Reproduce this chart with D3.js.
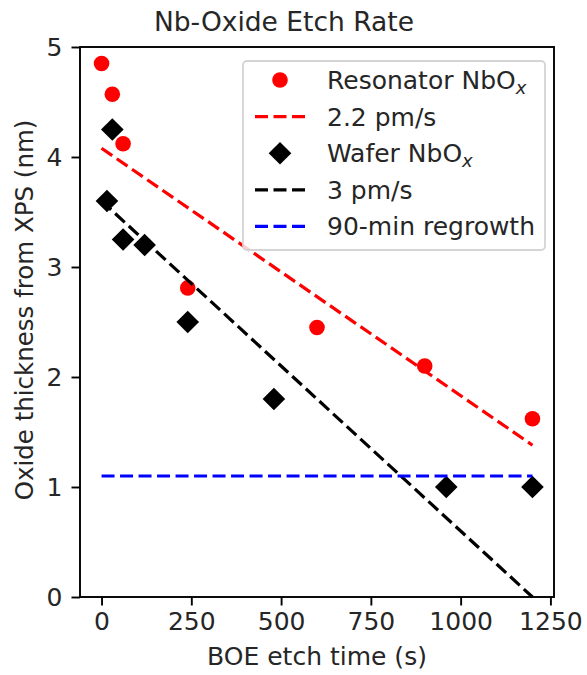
<!DOCTYPE html>
<html>
<head>
<meta charset="utf-8">
<script src="https://cdn.jsdelivr.net/npm/d3@7"></script>
<style>
  body { margin: 0; background: #fff; }
  text { font-family: "DejaVu Sans", sans-serif; fill: #262626; }
</style>
</head>
<body>
<svg id="chart" width="587" height="675"></svg>
<script>
// data
var resTime = [0, 30, 60, 240, 600, 900, 1200];
var resThick = [4.85, 4.57, 4.12, 2.81, 2.45, 2.10, 1.62];
var waferTime = [15, 30, 60, 120, 240, 480, 960, 1200];
var waferThick = [3.6, 4.25, 3.25, 3.2, 2.5, 1.8, 1.0, 1.0];
var fitTime = [0, 1200];
var resFit = [4.08, 1.38];     // 2.2 pm/s
var waferFit = [3.6, 0.0];     // 3 pm/s
var regrowth = [1.1, 1.1];     // 90-min regrowth
var xTicks = [0, 250, 500, 750, 1000, 1250];
var yTicks = [0, 1, 2, 3, 4, 5];

var mLeft = 80, mRight = 554, mTop = 47, mBottom = 597;
var fs = 25;

var svg = d3.select("#chart");

var xScale = d3.scaleLinear().domain([-60, 1260]).range([mLeft, mRight]);
var yScale = d3.scaleLinear().domain([0, 5]).range([mBottom, mTop]);

function zipPts(xs, ys){
	return xs.map(function(x, i){ return [x, ys[i]]; });
}

var line = d3.line()
	.x(function(d){ return xScale(d[0]); })
	.y(function(d){ return yScale(d[1]); });

var diamond = d3.symbol().type(d3.symbolSquare).size(16 * 16);

// red scatter + fit
svg.append("g").selectAll("circle")
	.data(zipPts(resTime, resThick))
	.enter().append("circle")
	.attr("cx", function(d){ return xScale(d[0]); })
	.attr("cy", function(d){ return yScale(d[1]); })
	.attr("r", 7.8)
	.attr("fill", "#ff0000");

svg.append("path")
	.datum(zipPts(fitTime, resFit))
	.attr("d", line)
	.attr("fill", "none")
	.attr("stroke", "#ff0000")
	.attr("stroke-width", 3.2)
	.attr("stroke-dasharray", "13,5.5");

// wafer diamonds + fit
svg.append("g").selectAll("path")
	.data(zipPts(waferTime, waferThick))
	.enter().append("path")
	.attr("d", diamond)
	.attr("transform", function(d){
		return "translate(" + xScale(d[0]) + "," + yScale(d[1]) + ") rotate(45)";
	})
	.attr("fill", "#000");

svg.append("path")
	.datum(zipPts(fitTime, waferFit))
	.attr("d", line)
	.attr("fill", "none")
	.attr("stroke", "#000")
	.attr("stroke-width", 3.2)
	.attr("stroke-dasharray", "13,5.5");

svg.append("path")
	.datum(zipPts(fitTime, regrowth))
	.attr("d", line)
	.attr("fill", "none")
	.attr("stroke", "#0000ff")
	.attr("stroke-width", 3.2)
	.attr("stroke-dasharray", "13,5.5");

// axes
var xAxis = d3.axisBottom(xScale).tickValues(xTicks).tickFormat(d3.format("d")).tickSize(8.5).tickPadding(7);
var yAxis = d3.axisLeft(yScale).tickValues(yTicks).tickFormat(d3.format("d")).tickSize(8.5).tickPadding(9);

svg.append("g")
	.attr("class", "x axis")
	.attr("transform", "translate(0," + mBottom + ")")
	.call(xAxis);
svg.append("g")
	.attr("class", "y axis")
	.attr("transform", "translate(" + mLeft + ",0)")
	.call(yAxis);

svg.selectAll(".axis .domain").remove();
svg.selectAll(".axis line").attr("stroke", "#000").attr("stroke-width", 1.9);
svg.selectAll(".axis text")
	.style("font-family", "DejaVu Sans")
	.style("font-size", fs + "px")
	.attr("fill", "#262626");

// frame
svg.append("rect")
	.attr("x", mLeft).attr("y", mTop)
	.attr("width", mRight - mLeft).attr("height", mBottom - mTop)
	.attr("fill", "none")
	.attr("stroke", "#000")
	.attr("stroke-width", 1.9);

// titles
svg.append("text")
	.attr("x", 284).attr("y", 31)
	.style("text-anchor", "middle")
	.style("font-size", "26.5px")
	.text("Nb-Oxide Etch Rate");

svg.append("text")
	.attr("x", (mLeft + mRight) / 2).attr("y", 665)
	.style("text-anchor", "middle")
	.style("font-size", fs + "px")
	.text("BOE etch time (s)");

svg.append("text")
	.attr("transform", "rotate(-90)")
	.attr("x", -310).attr("y", 33)
	.style("text-anchor", "middle")
	.style("font-size", "24.5px")
	.text("Oxide thickness from XPS (nm)");

// legend
var legend = svg.append("g").attr("class", "legend");
legend.append("rect")
	.attr("x", 243).attr("y", 61)
	.attr("width", 302).attr("height", 189)
	.attr("rx", 4)
	.attr("fill", "#fff").attr("fill-opacity", 0.8)
	.attr("stroke", "#d4d4d4").attr("stroke-width", 1.8);

var legendItems = [
	{label: "Resonator NbO", sub: "x", kind: "circle", color: "#ff0000"},
	{label: "2.2 pm/s", kind: "line", color: "#ff0000"},
	{label: "Wafer NbO", sub: "x", kind: "diamond", color: "#000"},
	{label: "3 pm/s", kind: "line", color: "#000"},
	{label: "90-min regrowth", kind: "line", color: "#0000ff"}
];

legendItems.forEach(function(it, i){
	var cy = 80 + i * 36.6;
	if (it.kind == "circle") {
		legend.append("circle").attr("cx", 280).attr("cy", cy).attr("r", 7.8).attr("fill", it.color);
	} else if (it.kind == "diamond") {
		legend.append("path").attr("d", diamond)
			.attr("transform", "translate(280," + cy + ") rotate(45)")
			.attr("fill", it.color);
	} else {
		legend.append("line")
			.attr("x1", 255).attr("x2", 305)
			.attr("y1", cy).attr("y2", cy)
			.attr("stroke", it.color)
			.attr("stroke-width", 3.2)
			.attr("stroke-dasharray", "13,5.5");
	}
	var t = legend.append("text")
		.attr("x", 327).attr("y", cy + 9)
		.style("font-size", fs + "px")
		.text(it.label);
	if (it.sub) {
		t.append("tspan")
			.attr("dy", 5)
			.style("font-style", "italic")
			.style("font-size", (fs * 0.72) + "px")
			.text(it.sub);
	}
});
</script>
</body>
</html>
